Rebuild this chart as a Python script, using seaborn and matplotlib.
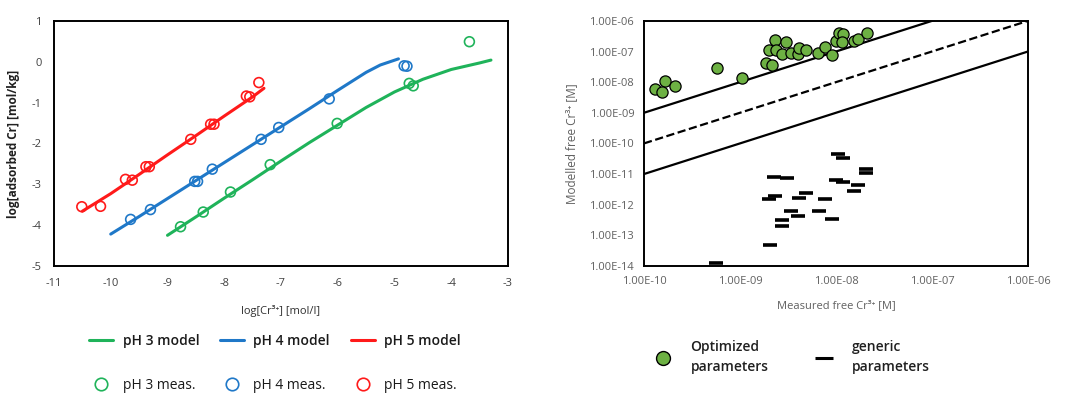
"""
Cr3+ adsorption isotherms and modelled vs measured free Cr3+
"""
import numpy as np
import pandas as pd
import matplotlib
matplotlib.use("Agg")
import matplotlib.pyplot as plt
from matplotlib.lines import Line2D
from matplotlib.ticker import FuncFormatter, LogLocator, NullLocator
import seaborn as sns

# --- left panel: model curves (log x, log y)
ph3_model_x = [-9.0, -8.5, -8.0, -7.5, -7.0, -6.5, -6.0, -5.5, -5.0, -4.5, -4.0, -3.5, -3.3]
ph3_model_y = [-4.25, -3.80, -3.34, -2.89, -2.43, -1.98, -1.55, -1.12, -0.74, -0.43, -0.19, -0.03, 0.04]
ph4_model_x = [-10.0, -9.5, -9.0, -8.5, -8.0, -7.5, -7.0, -6.5, -6.0, -5.5, -5.25, -4.93]
ph4_model_y = [-4.22, -3.79, -3.35, -2.91, -2.47, -2.03, -1.59, -1.15, -0.70, -0.26, -0.08, 0.07]
ph5_model_x = [-10.5, -10.0, -9.5, -9.0, -8.5, -8.0, -7.5, -7.3]
ph5_model_y = [-3.66, -3.23, -2.76, -2.28, -1.81, -1.33, -0.86, -0.65]

# --- left panel: measurements
ph3_meas_x = [-8.77, -8.37, -7.89, -7.19, -6.01, -4.74, -4.67, -3.68]
ph3_meas_y = [-4.04, -3.68, -3.19, -2.52, -1.51, -0.53, -0.59, 0.49]
ph4_meas_x = [-9.65, -9.30, -8.52, -8.47, -8.21, -7.35, -7.04, -6.15, -4.83, -4.78]
ph4_meas_y = [-3.86, -3.62, -2.93, -2.93, -2.63, -1.90, -1.61, -0.91, -0.10, -0.11]
ph5_meas_x = [-10.51, -10.18, -9.74, -9.62, -9.38, -9.32, -8.59, -8.24, -8.18, -7.61, -7.55, -7.39]
ph5_meas_y = [-3.55, -3.54, -2.88, -2.90, -2.57, -2.57, -1.90, -1.53, -1.53, -0.84, -0.86, -0.51]

# --- right panel (log10 of concentrations)
opt_logx = [-9.89, -9.78, -9.81, -9.68, -9.24, -8.98, -8.73, -8.67, -8.70, -8.64, -8.62, -8.52,
            -8.56, -8.47, -8.40, -8.38, -8.31, -8.19, -8.11, -8.04, -8.00, -7.97, -7.93, -7.94,
            -7.81, -7.77, -7.68]
opt_logy = [-8.23, -7.96, -8.31, -8.13, -7.55, -7.85, -7.36, -7.44, -6.95, -6.62, -6.95, -6.68,
            -7.09, -7.06, -7.08, -6.89, -6.95, -7.04, -6.84, -7.11, -6.65, -6.40, -6.44, -6.68,
            -6.65, -6.60, -6.40]
gen_logx = [-9.25, -8.69, -8.65, -8.51, -8.70, -8.63, -8.56, -8.56, -8.47, -8.40, -8.38, -8.31,
            -8.18, -8.11, -8.04, -7.98, -7.93, -8.00, -7.93, -7.81, -7.77, -7.69, -7.69]
gen_logy = [-13.89, -13.32, -11.09, -11.12, -11.80, -11.72, -12.51, -12.69, -12.20, -12.38, -11.77,
            -11.61, -12.20, -11.83, -12.47, -10.35, -10.46, -11.18, -11.25, -11.56, -11.36, -10.85,
            -10.98]
ref_x = [1e-10, 1e-6]
ref_factors = [10, 1, 0.1]

GREEN = "#1fb35a"
BLUE = "#1f78c8"
RED = "#ff1a1a"
OPT_GREEN = "#6db143"

sns.set_style("white")
plt.rcParams['font.family'] = ['Open Sans', 'DejaVu Sans']
plt.rcParams['axes.unicode_minus'] = False

fig = plt.figure(figsize=(10.69, 3.94), dpi=100)
ax1 = fig.add_axes([0.0505, 0.325, 0.4247, 0.622])
ax2 = fig.add_axes([0.6024, 0.325, 0.3592, 0.622])

###############################################################################
# left panel

series = [
    ("pH 3", GREEN, ph3_model_x, ph3_model_y, ph3_meas_x, ph3_meas_y),
    ("pH 4", BLUE, ph4_model_x, ph4_model_y, ph4_meas_x, ph4_meas_y),
    ("pH 5", RED, ph5_model_x, ph5_model_y, ph5_meas_x, ph5_meas_y),
]
handles = []
for name, col, mx, my, px, py in series:
    sns.lineplot(x=mx, y=my, color=col, lw=2.2, sort=False, ax=ax1)
    sns.scatterplot(x=px, y=py, marker="o", s=50, facecolors="none",
                    edgecolor=col, linewidth=1.2, ax=ax1, zorder=3)
    handles.append(Line2D([], [], color=col, lw=2.2, label=name + " model"))
    handles.append(Line2D([], [], color=col, lw=0, marker="o", markersize=9,
                          markerfacecolor="none", markeredgewidth=1.2,
                          label=name + " meas."))

ax1.set_xlim(-11, -3)
ax1.set_ylim(-5, 1)
ax1.set_xticks(range(-11, -2))
ax1.set_yticks(range(-5, 2))
ax1.tick_params(labelsize=8, labelcolor="#404040", length=0, pad=9)
ax1.set_xlabel("log[Cr³⁺] [mol/l]", fontsize=8, color="#303030", labelpad=11)
ax1.set_ylabel("log[adsorbed Cr] [mol/kg]", fontsize=8.5, fontweight="bold",
               color="#202020", labelpad=8)
for sp in ax1.spines.values():
    sp.set_color("black")
    sp.set_linewidth(1.4)

leg1 = ax1.legend(handles=handles, ncol=3, loc="upper left", bbox_to_anchor=(0.05, -0.225),
                  frameon=False, fontsize=10, handlelength=1.75, columnspacing=1.5,
                  labelspacing=2.2, handletextpad=0.65)
for t in leg1.get_texts():
    t.set_color("#1a1a1a")
    if "model" in t.get_text():
        t.set_fontweight("semibold")

###############################################################################
# right panel

for fac, ls in zip(ref_factors, ["-", "--", "-"]):
    sns.lineplot(x=ref_x, y=[v * fac for v in ref_x], color="black",
                 lw=1.6, linestyle=ls, ax=ax2)

sns.scatterplot(x=10 ** np.array(opt_logx), y=10 ** np.array(opt_logy), s=65,
                color=OPT_GREEN, edgecolor="black", linewidth=0.9, ax=ax2, zorder=3)
sns.scatterplot(x=10 ** np.array(gen_logx), y=10 ** np.array(gen_logy), marker="_",
                s=110, color="black", linewidth=2.6, ax=ax2, zorder=3)

ax2.set_xscale("log")
ax2.set_yscale("log")
ax2.set_xlim(1e-10, 1e-6)
ax2.set_ylim(1e-14, 1e-6)
ax2.xaxis.set_major_locator(LogLocator(base=10, numticks=10))
ax2.yaxis.set_major_locator(LogLocator(base=10, numticks=12))
ax2.xaxis.set_minor_locator(NullLocator())
ax2.yaxis.set_minor_locator(NullLocator())
sci = FuncFormatter(lambda v, pos: f"{v:.2E}")
ax2.xaxis.set_major_formatter(sci)
ax2.yaxis.set_major_formatter(sci)
ax2.tick_params(labelsize=8, labelcolor="#606060", length=0, pad=7)
ax2.set_xlabel("Measured free Cr³⁺ [M]", fontsize=8, color="#606060", labelpad=10)
ax2.set_ylabel("Modelled free Cr³⁺ [M]", fontsize=8.5, color="#606060", labelpad=8)
for sp in ax2.spines.values():
    sp.set_color("black")
    sp.set_linewidth(1.4)

right_handles = [
    Line2D([], [], lw=0, marker="o", markersize=10, markerfacecolor=OPT_GREEN,
           markeredgecolor="black", label="Optimized\nparameters"),
    Line2D([], [], lw=0, marker="_", markersize=13, markeredgewidth=2.2,
           color="black", label="generic\nparameters"),
]
leg2 = ax2.legend(handles=right_handles, ncol=2, loc="upper left",
                  bbox_to_anchor=(-0.02, -0.25), frameon=False, fontsize=10,
                  columnspacing=3.0, handletextpad=1.0)
for t in leg2.get_texts():
    t.set_fontweight("semibold")
    t.set_color("#202020")
    t.set_linespacing(1.6)

fig.savefig("out.png", dpi=100)
